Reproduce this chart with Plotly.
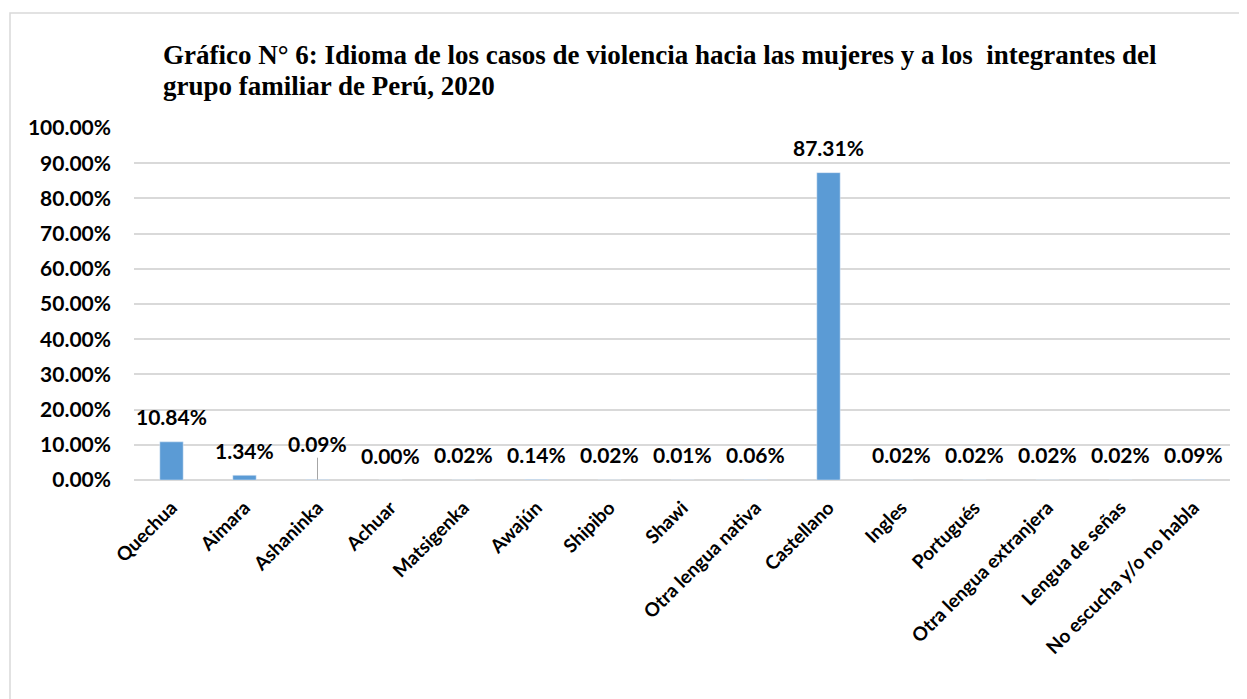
import plotly.graph_objects as go

categories = ["Quechua", "Aimara", "Ashaninka", "Achuar", "Matsigenka", "Awajún",
              "Shipibo", "Shawi", "Otra lengua nativa", "Castellano", "Ingles",
              "Portugués", "Otra lengua extranjera", "Lengua de señas",
              "No escucha y/o no habla"]
values = [0.1084, 0.0134, 0.0009, 0.0000, 0.0002, 0.0014, 0.0002, 0.0001, 0.0006,
          0.8731, 0.0002, 0.0002, 0.0002, 0.0002, 0.0009]
tick_vals = [i / 10 for i in range(11)]

title_lines = ["Gráfico N° 6: Idioma de los casos de violencia hacia las mujeres y a los  integrantes del",
               "grupo familiar de Perú, 2020"]

OFF = 8  # page body margin
W, H = 1247 - OFF, 699 - OFF
L, T = 134 - OFF, 128 - OFF
R = W - (1230 - OFF)
B = H - (480 - OFF)
pw, ph = W - L - R, H - T - B

def px_x(p):
    return (p - OFF - L) / pw

def px_y(p):
    return (T + ph - (p - OFF)) / ph

fig = go.Figure()
fig.add_trace(go.Bar(x=categories, y=values, marker_color="#5B9BD5", width=0.32,
                     hoverinfo="x+y"))

label_font = dict(family="Lato, Open Sans, sans-serif", size=21, color="#000000", weight="bold")
for c, v in zip(categories, values):
    if c == "Ashaninka":
        fig.add_annotation(x=c, y=v, text=f"{v*100:.2f}%", showarrow=True,
                           arrowhead=0, arrowwidth=1, arrowcolor="#a6a6a6",
                           ax=0, ay=-36, standoff=0, font=label_font)
    else:
        fig.add_annotation(x=c, y=v, text=f"{v*100:.2f}%", showarrow=False,
                           yanchor="middle", yshift=25, font=label_font)

# title, two lines
title_font = dict(family="Liberation Serif, Times New Roman, serif", size=27, color="#000000", weight="bold")
for line, yc in zip(title_lines, [55, 86]):
    fig.add_annotation(xref="paper", yref="paper", x=px_x(161), y=px_y(yc),
                       xanchor="left", yanchor="middle", text=line, showarrow=False,
                       font=title_font)

# outer chart border
fig.add_shape(type="rect", xref="paper", yref="paper",
              x0=px_x(10), x1=px_x(1245),
              y0=px_y(720), y1=px_y(13),
              line=dict(color="#d9d9d9", width=1.5), fillcolor="rgba(0,0,0,0)", layer="below")

fig.update_layout(
    width=W, height=H,
    margin=dict(l=L, r=R, t=T, b=B, autoexpand=False),
    paper_bgcolor="white", plot_bgcolor="white",
    showlegend=False,
    xaxis=dict(tickangle=-45, showgrid=False, showline=False, ticks="",
               ticklabelstandoff=12,
               tickfont=dict(family="Lato, Open Sans, sans-serif", size=19, color="#000000", weight="bold")),
    yaxis=dict(range=[0, 1.0], tickvals=tick_vals, tickformat=".2%",
               showgrid=True, gridcolor="#d9d9d9", gridwidth=1.5,
               zeroline=True, zerolinecolor="#d9d9d9", zerolinewidth=1.5,
               showline=False, ticks="", ticklen=0, ticklabelstandoff=22,
               tickfont=dict(family="Lato, Open Sans, sans-serif", size=21, color="#000000", weight="bold")),
)

fig.write_html("out.html")
